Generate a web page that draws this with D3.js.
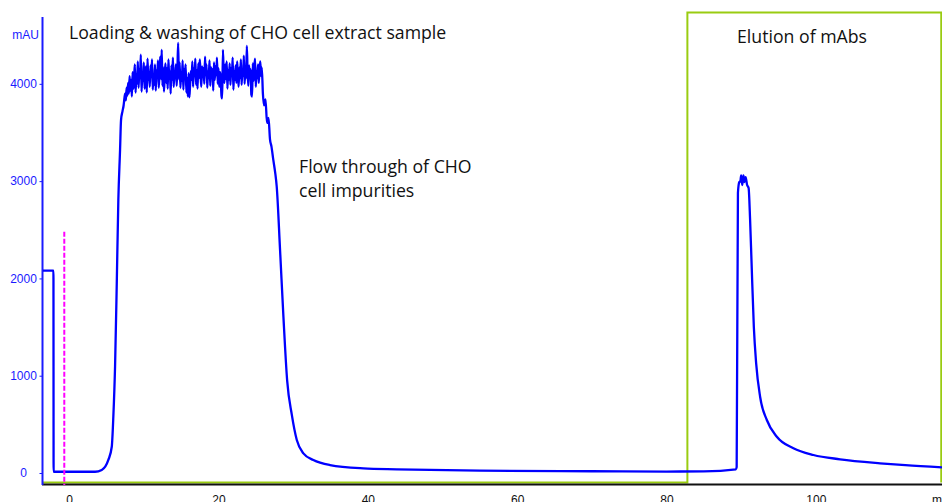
<!DOCTYPE html>
<html>
<head>
<meta charset="utf-8">
<script src="https://cdn.jsdelivr.net/npm/d3@7"></script>
<style>
  body { margin: 0; background: #fff; }
  svg { display: block; }
  .note { font-family: "Open Sans", "Noto Sans", sans-serif; font-size: 17.7px; fill: #111; }
  .yax text { font-family: "Liberation Sans", Arial, sans-serif; font-size: 12px; fill: #1a1aff; }
  .xax text { font-family: "Liberation Sans", Arial, sans-serif; font-size: 12px; fill: #111; }
</style>
</head>
<body>
<script>
// UV trace (mAU vs ml)
var preTime  = [-3.5, -2.1, -2.08, 3.47, 4.37, 5.25, 5.71, 5.92, 6.15, 6.38, 6.59, 6.82, 6.95, 7.15];
var preValue = [2080, 2080, 13, 13, 31, 134, 270, 579, 1093, 1953, 2806, 3320, 3628, 3720];

// noisy loading plateau, one reading every 0.1 ml from 7.3 ml
var plateauStart = 7.3, plateauStep = 0.1;
var plateauValue = [
  3780, 3850, 3900, 3830, 3960, 3880, 4010, 3900, 4080, 3930,
  4040, 3870, 4120, 3950, 4060, 4200, 3910, 4100, 4000, 4230,
  3960, 4150, 4060, 4300, 3920, 4110, 4030, 4220, 3950, 4080,
  4180, 3910, 4260, 4040, 4120, 3970, 4190, 4070, 4250, 3940,
  4100, 3990, 4200, 3930, 4140, 4060, 4240, 3960, 4110, 4280,
  4050, 4350, 3980, 4170, 3920, 4090, 4210, 4010, 4160, 3950,
  4250, 4060, 4130, 3900, 4190, 4040, 4270, 3970, 4110, 4060,
  4200, 3980, 4140, 4420, 4050, 4220, 3960, 4120, 4030, 4240,
  3940, 4150, 4080, 4200, 3910, 4060, 3870, 4110, 3860, 3990,
  4130, 4040, 4230, 3970, 4160, 4080, 4260, 3990, 4140, 3950,
  4210, 4060, 4250, 4100, 3970, 4180, 4070, 4160, 4000, 4280,
  4090, 4200, 3960, 4130, 4060, 4240, 3980, 4170, 4080, 4150,
  3930, 4220, 4040, 4180, 4090, 4270, 4000, 4160, 3970, 4120,
  4070, 3880, 3850, 4350, 4100, 4010, 4200, 4050, 4230, 3950,
  4140, 4040, 4210, 3990, 4160, 4080, 4270, 3940, 4130, 4040,
  4190, 4010, 4230, 4090, 3970, 4170, 4060, 4250, 3990, 4150,
  4080, 4290, 4000, 4160, 4060, 4390, 4110, 3980, 4190, 4060,
  4150, 3890, 3870, 4210, 4030, 4170, 4260, 3970, 4130, 4060,
  4200, 4010, 4160, 4230, 4080, 4170
];

var postTime  = [25.95, 26.1, 26.3, 26.5, 26.7, 26.9, 27.1, 27.35, 27.6, 27.8, 28.25, 28.7, 29.2,
                 29.82, 30.49, 31.37, 32.71, 34.94, 39.41, 43.88, 55, 70, 80, 85, 89.3, 89.4,
                 89.57, 89.75, 89.9, 90.0, 90.15, 90.3, 90.45, 90.6, 90.8, 91.0, 91.2, 91.4,
                 91.7, 92.01, 92.54, 93.44, 94.78, 97.0, 99.68, 103.25, 108.6, 112, 116.9];
var postValue = [3900, 3780, 3840, 3600, 3650, 3430, 3355, 3215, 3085, 2945, 2290, 1605, 950,
                 600, 339, 202, 134, 82, 48, 38, 24, 18, 15, 17, 38, 60,
                 2880, 2990, 3000, 3060, 2960, 3060, 2990, 3040, 2960, 2930, 2600, 2150,
                 1500, 1127, 784, 545, 373, 254, 185, 141, 100, 80, 58];

// elution step (%B)
var gradTime  = [-3.5, 82.8, 116.8];
var gradValue = [0, 100, 0];

// injection mark
var injectTime = -0.65, injectTop = 2480;

var yTicks = [0, 1000, 2000, 3000, 4000];
var xTicks = [0, 20, 40, 60, 80, 100];

var width = 942, height = 502;

var svg = d3.select("body").append("svg")
    .attr("width", width)
    .attr("height", height);

var x = d3.scaleLinear().domain([-3.5, 116.9]).range([43, 942]);
var y = d3.scaleLinear().domain([-113, 4687]).range([484, 17]);
var yGrad = d3.scaleLinear().domain([0, 100]).range([482.5, 12.5]);

var uv = [];
preTime.forEach(function (t, i) { uv.push([t, preValue[i]]); });
plateauValue.forEach(function (v, i) { uv.push([plateauStart + i * plateauStep, v]); });
postTime.forEach(function (t, i) { uv.push([t, postValue[i]]); });

var grad = gradTime.map(function (t, i) { return [t, gradValue[i]]; });

// gradient step
svg.append("path")
    .datum(grad)
    .attr("fill", "none")
    .attr("stroke", "#99cc11")
    .attr("stroke-width", 2)
    .attr("d", d3.line()
        .curve(d3.curveStepAfter)
        .x(function (d) { return x(d[0]); })
        .y(function (d) { return yGrad(d[1]); }));

// x axis
var xAxis = svg.append("g")
    .attr("class", "xax")
    .attr("transform", "translate(0,484)")
    .call(d3.axisBottom(x).tickValues(xTicks).tickSize(0).tickPadding(11));
xAxis.select(".domain").remove();
svg.append("line")
    .attr("x1", 42).attr("x2", 942)
    .attr("y1", 484.5).attr("y2", 484.5)
    .attr("stroke", "#111").attr("stroke-width", 2);
svg.append("text")
    .attr("x", 932).attr("y", 503.5)
    .style("font-family", "'Liberation Sans', Arial, sans-serif")
    .style("font-size", "12px")
    .style("fill", "#111")
    .text("ml");

// y axis
var yAxis = svg.append("g")
    .attr("class", "yax")
    .attr("transform", "translate(42.5,0)")
    .call(d3.axisLeft(y).tickValues(yTicks).tickFormat(d3.format("d")).tickSize(3).tickPadding(0));
yAxis.select(".domain").remove();
yAxis.selectAll("line").attr("stroke", "#1a1aff");
yAxis.selectAll("text").attr("text-anchor", "middle").attr("x", -19);
svg.append("line")
    .attr("x1", 42.5).attr("x2", 42.5)
    .attr("y1", 17).attr("y2", 485)
    .attr("stroke", "#1a1aff").attr("stroke-width", 2);
svg.append("text")
    .attr("x", 25.5).attr("y", 39)
    .attr("text-anchor", "middle")
    .style("font-family", "'Liberation Sans', Arial, sans-serif")
    .style("font-size", "12px")
    .style("fill", "#1a1aff")
    .text("mAU");

// UV trace
svg.append("path")
    .datum(uv)
    .attr("fill", "none")
    .attr("stroke", "#0000ff")
    .attr("stroke-width", 2.3)
    .attr("stroke-linejoin", "round")
    .attr("d", d3.line()
        .curve(d3.curveMonotoneX)
        .x(function (d) { return x(d[0]); })
        .y(function (d) { return y(d[1]); }));

// injection mark
svg.append("line")
    .attr("x1", x(injectTime)).attr("x2", x(injectTime))
    .attr("y1", y(injectTop)).attr("y2", 485)
    .attr("stroke", "#ff00ff")
    .attr("stroke-width", 2)
    .attr("stroke-dasharray", "5,2");

// annotations
svg.append("text").attr("class", "note").attr("x", 69).attr("y", 39)
    .text("Loading & washing of CHO cell extract sample");
svg.append("text").attr("class", "note").attr("x", 299).attr("y", 173)
    .text("Flow through of CHO");
svg.append("text").attr("class", "note").attr("x", 299).attr("y", 197)
    .text("cell impurities");
svg.append("text").attr("class", "note").attr("x", 737).attr("y", 43)
    .text("Elution of mAbs");
</script>
</body>
</html>
